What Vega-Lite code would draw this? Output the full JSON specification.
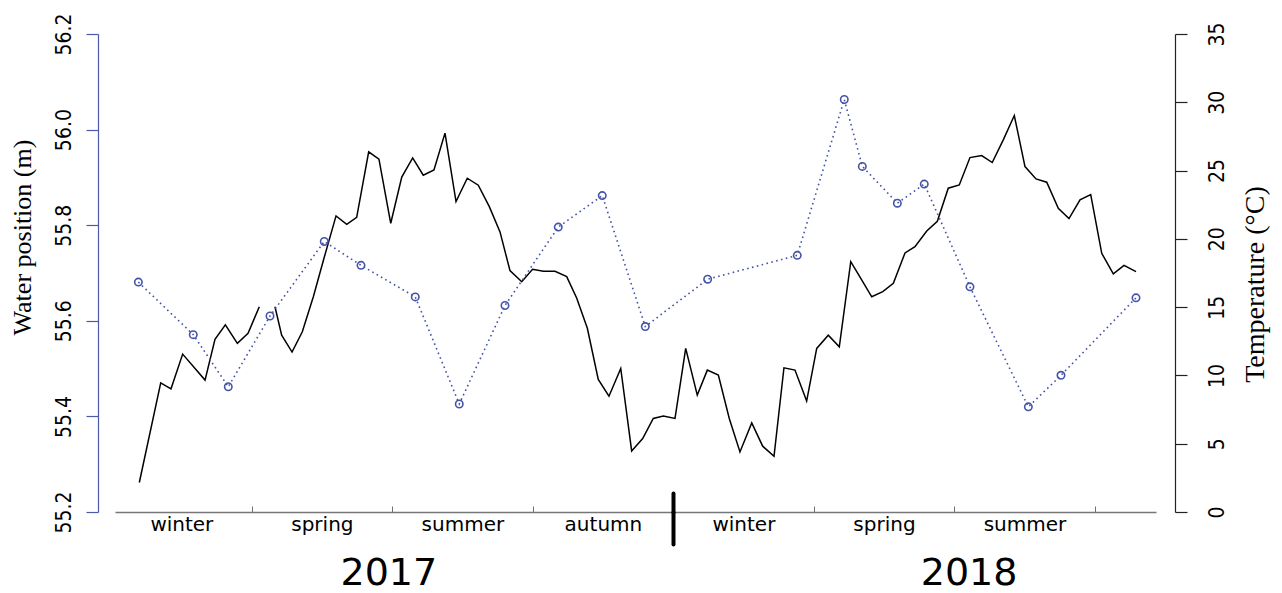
{
  "$schema": "https://vega.github.io/schema/vega-lite/v6.json",
  "width": 1041,
  "height": 478,
  "autosize": {"type": "none"},
  "padding": {"left": 115, "top": 34, "right": 126, "bottom": 81},
  "background": "white",
  "config": {"view": {"stroke": null}, "axis": {"grid": false}},
  "datasets": {
    "temp": [
      {"week": 2.61, "temperature": 2.16, "segment": 1},
      {"week": 4.59, "temperature": 9.46, "segment": 1},
      {"week": 5.54, "temperature": 9.02, "segment": 1},
      {"week": 6.62, "temperature": 11.56, "segment": 1},
      {"week": 8.69, "temperature": 9.66, "segment": 1},
      {"week": 9.61, "temperature": 12.64, "segment": 1},
      {"week": 10.57, "temperature": 13.71, "segment": 1},
      {"week": 11.68, "temperature": 12.35, "segment": 1},
      {"week": 12.67, "temperature": 13.08, "segment": 1},
      {"week": 13.71, "temperature": 15.03, "segment": 1},
      {"week": 15.16, "temperature": 15.03, "segment": 2},
      {"week": 15.78, "temperature": 12.95, "segment": 2},
      {"week": 16.74, "temperature": 11.71, "segment": 2},
      {"week": 17.69, "temperature": 13.2, "segment": 2},
      {"week": 18.71, "temperature": 15.76, "segment": 2},
      {"week": 19.7, "temperature": 18.6, "segment": 2},
      {"week": 20.81, "temperature": 21.68, "segment": 2},
      {"week": 21.8, "temperature": 21.07, "segment": 2},
      {"week": 22.72, "temperature": 21.58, "segment": 2},
      {"week": 23.83, "temperature": 26.37, "segment": 2},
      {"week": 24.78, "temperature": 25.84, "segment": 2},
      {"week": 25.87, "temperature": 21.14, "segment": 2},
      {"week": 26.89, "temperature": 24.52, "segment": 2},
      {"week": 27.9, "temperature": 25.93, "segment": 2},
      {"week": 28.88, "temperature": 24.66, "segment": 2},
      {"week": 29.87, "temperature": 25.05, "segment": 2},
      {"week": 30.89, "temperature": 27.74, "segment": 2},
      {"week": 31.91, "temperature": 22.73, "segment": 2},
      {"week": 32.95, "temperature": 24.44, "segment": 2},
      {"week": 33.97, "temperature": 23.93, "segment": 2},
      {"week": 34.99, "temperature": 22.36, "segment": 2},
      {"week": 35.98, "temperature": 20.51, "segment": 2},
      {"week": 36.9, "temperature": 17.68, "segment": 2},
      {"week": 37.99, "temperature": 16.86, "segment": 2},
      {"week": 38.99, "temperature": 17.77, "segment": 2},
      {"week": 39.99, "temperature": 17.62, "segment": 2},
      {"week": 41.07, "temperature": 17.62, "segment": 2},
      {"week": 42.15, "temperature": 17.23, "segment": 2},
      {"week": 43.08, "temperature": 15.65, "segment": 2},
      {"week": 44.06, "temperature": 13.45, "segment": 2},
      {"week": 45.07, "temperature": 9.71, "segment": 2},
      {"week": 46.06, "temperature": 8.48, "segment": 2},
      {"week": 47.15, "temperature": 10.51, "segment": 2},
      {"week": 48.16, "temperature": 4.47, "segment": 2},
      {"week": 49.18, "temperature": 5.38, "segment": 2},
      {"week": 50.16, "temperature": 6.85, "segment": 2},
      {"week": 51.09, "temperature": 7.02, "segment": 2},
      {"week": 52.17, "temperature": 6.85, "segment": 2},
      {"week": 53.16, "temperature": 11.98, "segment": 2},
      {"week": 54.23, "temperature": 8.56, "segment": 2},
      {"week": 55.16, "temperature": 10.39, "segment": 2},
      {"week": 56.18, "temperature": 10.02, "segment": 2},
      {"week": 57.19, "temperature": 6.85, "segment": 2},
      {"week": 58.18, "temperature": 4.4, "segment": 2},
      {"week": 59.27, "temperature": 6.52, "segment": 2},
      {"week": 60.28, "temperature": 4.82, "segment": 2},
      {"week": 61.33, "temperature": 4.08, "segment": 2},
      {"week": 62.25, "temperature": 10.56, "segment": 2},
      {"week": 63.27, "temperature": 10.39, "segment": 2},
      {"week": 64.35, "temperature": 8.12, "segment": 2},
      {"week": 65.28, "temperature": 11.98, "segment": 2},
      {"week": 66.35, "temperature": 12.95, "segment": 2},
      {"week": 67.37, "temperature": 12.1, "segment": 2},
      {"week": 68.43, "temperature": 18.33, "segment": 2},
      {"week": 69.44, "temperature": 16.99, "segment": 2},
      {"week": 70.37, "temperature": 15.76, "segment": 2},
      {"week": 71.39, "temperature": 16.13, "segment": 2},
      {"week": 72.37, "temperature": 16.74, "segment": 2},
      {"week": 73.45, "temperature": 18.97, "segment": 2},
      {"week": 74.37, "temperature": 19.43, "segment": 2},
      {"week": 75.46, "temperature": 20.58, "segment": 2},
      {"week": 76.44, "temperature": 21.29, "segment": 2},
      {"week": 77.45, "temperature": 23.71, "segment": 2},
      {"week": 78.47, "temperature": 23.95, "segment": 2},
      {"week": 79.46, "temperature": 25.95, "segment": 2},
      {"week": 80.54, "temperature": 26.1, "segment": 2},
      {"week": 81.52, "temperature": 25.59, "segment": 2},
      {"week": 82.54, "temperature": 27.25, "segment": 2},
      {"week": 83.56, "temperature": 29.03, "segment": 2},
      {"week": 84.55, "temperature": 25.29, "segment": 2},
      {"week": 85.57, "temperature": 24.39, "segment": 2},
      {"week": 86.56, "temperature": 24.15, "segment": 2},
      {"week": 87.63, "temperature": 22.24, "segment": 2},
      {"week": 88.62, "temperature": 21.48, "segment": 2},
      {"week": 89.64, "temperature": 22.85, "segment": 2},
      {"week": 90.63, "temperature": 23.24, "segment": 2},
      {"week": 91.65, "temperature": 18.94, "segment": 2},
      {"week": 92.72, "temperature": 17.43, "segment": 2},
      {"week": 93.71, "temperature": 18.06, "segment": 2},
      {"week": 94.82, "temperature": 17.6, "segment": 2}
    ],
    "water": [
      {"week": 2.52, "water": 55.681},
      {"week": 7.6, "water": 55.571},
      {"week": 10.84, "water": 55.462},
      {"week": 14.7, "water": 55.61},
      {"week": 19.72, "water": 55.766},
      {"week": 23.12, "water": 55.716},
      {"week": 28.14, "water": 55.65},
      {"week": 32.21, "water": 55.426},
      {"week": 36.44, "water": 55.632},
      {"week": 41.37, "water": 55.796},
      {"week": 45.44, "water": 55.862},
      {"week": 49.42, "water": 55.588},
      {"week": 55.19, "water": 55.687},
      {"week": 63.48, "water": 55.737},
      {"week": 67.83, "water": 56.063},
      {"week": 69.5, "water": 55.923},
      {"week": 72.74, "water": 55.846},
      {"week": 75.23, "water": 55.886},
      {"week": 79.46, "water": 55.671},
      {"week": 84.86, "water": 55.42},
      {"week": 87.88, "water": 55.486},
      {"week": 94.82, "water": 55.648}
    ]
  },
  "layer": [
    {
      "data": {"name": "temp"},
      "mark": {"type": "line", "color": "black", "strokeWidth": 1.5},
      "encoding": {
        "x": {
          "field": "week", "type": "quantitative",
          "scale": {"domain": [0.36, 96.67], "nice": false, "zero": false},
          "axis": {
            "orient": "bottom", "title": null,
            "values": [6.5, 19.5, 32.5, 45.5, 58.5, 71.5, 84.5],
            "labelExpr": "['winter','spring','summer','autumn','winter','spring','summer'][floor(datum.value / 13)]",
            "tickOffset": 70.26, "labelOffset": -70.26,
            "tickSize": -6, "tickColor": "#707070", "tickWidth": 1,
            "domainColor": "#777777", "domainWidth": 1.5,
            "labelFont": "DejaVu Sans", "labelFontSize": 20, "labelColor": "black",
            "labelBaseline": "alphabetic", "labelPadding": 24, "labelOverlap": false, "labelFlush": false
          }
        },
        "y": {
          "field": "temperature", "type": "quantitative",
          "scale": {"domain": [0, 35], "nice": false, "zero": false},
          "axis": {
            "orient": "right", "offset": 19,
            "values": [0, 5, 10, 15, 20, 25, 30, 35], "format": "d",
            "title": "Temperature (°C)",
            "titleFont": "Liberation Serif", "titleFontSize": 28, "titleFontWeight": "normal", "titleColor": "black",
            "titleAngle": 270, "titleBaseline": "top", "titlePadding": 14, "titleY": 250,
            "domainColor": "#222222", "domainWidth": 1.2, "tickColor": "#222222", "tickSize": 12, "tickWidth": 1.2,
            "labelFont": "Liberation Sans Narrow, DejaVu Sans Condensed, Liberation Sans", "labelFontSize": 21, "labelColor": "black",
            "labelAngle": 270, "labelAlign": "center", "labelBaseline": "alphabetic", "labelPadding": 36
          }
        },
        "detail": {"field": "segment"}
      }
    },
    {
      "data": {"name": "water"},
      "layer": [
        {
          "mark": {"type": "line", "color": "#4453a8", "strokeDash": [1.6, 3.4], "strokeWidth": 1.6},
          "encoding": {
            "x": {
              "field": "week", "type": "quantitative",
              "scale": {"domain": [0.36, 96.67], "nice": false, "zero": false},
              "axis": {
                "orient": "bottom", "title": null, "domain": false,
                "values": [25.65, 52, 79.33],
                "labelExpr": "datum.value === 52 ? '' : (datum.value < 52 ? '2017' : '2018')",
                "tickSize": 32, "tickWidth": 4, "tickColor": "black", "tickCap": "round",
                "tickOpacity": {"condition": {"test": "datum.value === 52", "value": 1}, "value": 0},
                "labelFont": "DejaVu Sans", "labelFontSize": 38, "labelColor": "black",
                "labelBaseline": "bottom", "labelPadding": 48, "labelOverlap": false, "labelFlush": false
              }
            },
            "y": {
              "field": "water", "type": "quantitative",
              "scale": {"domain": [55.2, 56.2], "nice": false, "zero": false},
              "axis": {
                "orient": "left", "offset": 17,
                "values": [55.2, 55.4, 55.6, 55.8, 56.0, 56.2], "format": ".1f",
                "title": "Water position (m)",
                "titleFont": "Liberation Serif", "titleFontSize": 26, "titleFontWeight": "normal", "titleColor": "black",
                "titlePadding": 18, "titleY": 203,
                "domainColor": "#4b5aa8", "domainWidth": 1.2, "tickColor": "#4b5aa8", "tickSize": 12, "tickWidth": 1.2,
                "labelFont": "Liberation Sans Narrow, DejaVu Sans Condensed, Liberation Sans", "labelFontSize": 21, "labelColor": "black",
                "labelAngle": 270, "labelAlign": "center", "labelBaseline": "alphabetic", "labelPadding": 16
              }
            }
          }
        },
        {
          "mark": {"type": "point", "shape": "circle", "filled": false, "color": "#4453a8", "size": 55, "strokeWidth": 1.6, "opacity": 1},
          "encoding": {
            "x": {
              "field": "week", "type": "quantitative",
              "scale": {"domain": [0.36, 96.67], "nice": false, "zero": false},
              "axis": {
                "orient": "bottom", "title": null, "domain": false, "labels": false,
                "values": [52],
                "tickSize": -19, "tickWidth": 4, "tickColor": "black", "tickCap": "round"
              }
            },
            "y": {
              "field": "water", "type": "quantitative",
              "scale": {"domain": [55.2, 56.2], "nice": false, "zero": false},
              "axis": {
                "orient": "left", "offset": 17,
                "values": [55.2, 55.4, 55.6, 55.8, 56.0, 56.2], "format": ".1f",
                "title": "Water position (m)",
                "titleFont": "Liberation Serif", "titleFontSize": 26, "titleFontWeight": "normal", "titleColor": "black",
                "titlePadding": 18, "titleY": 203,
                "domainColor": "#4b5aa8", "domainWidth": 1.2, "tickColor": "#4b5aa8", "tickSize": 12, "tickWidth": 1.2,
                "labelFont": "Liberation Sans Narrow, DejaVu Sans Condensed, Liberation Sans", "labelFontSize": 21, "labelColor": "black",
                "labelAngle": 270, "labelAlign": "center", "labelBaseline": "alphabetic", "labelPadding": 16
              }
            }
          }
        }
      ],
      "resolve": {"axis": {"x": "independent"}}
    }
  ],
  "resolve": {"scale": {"y": "independent"}, "axis": {"x": "independent"}}
}
